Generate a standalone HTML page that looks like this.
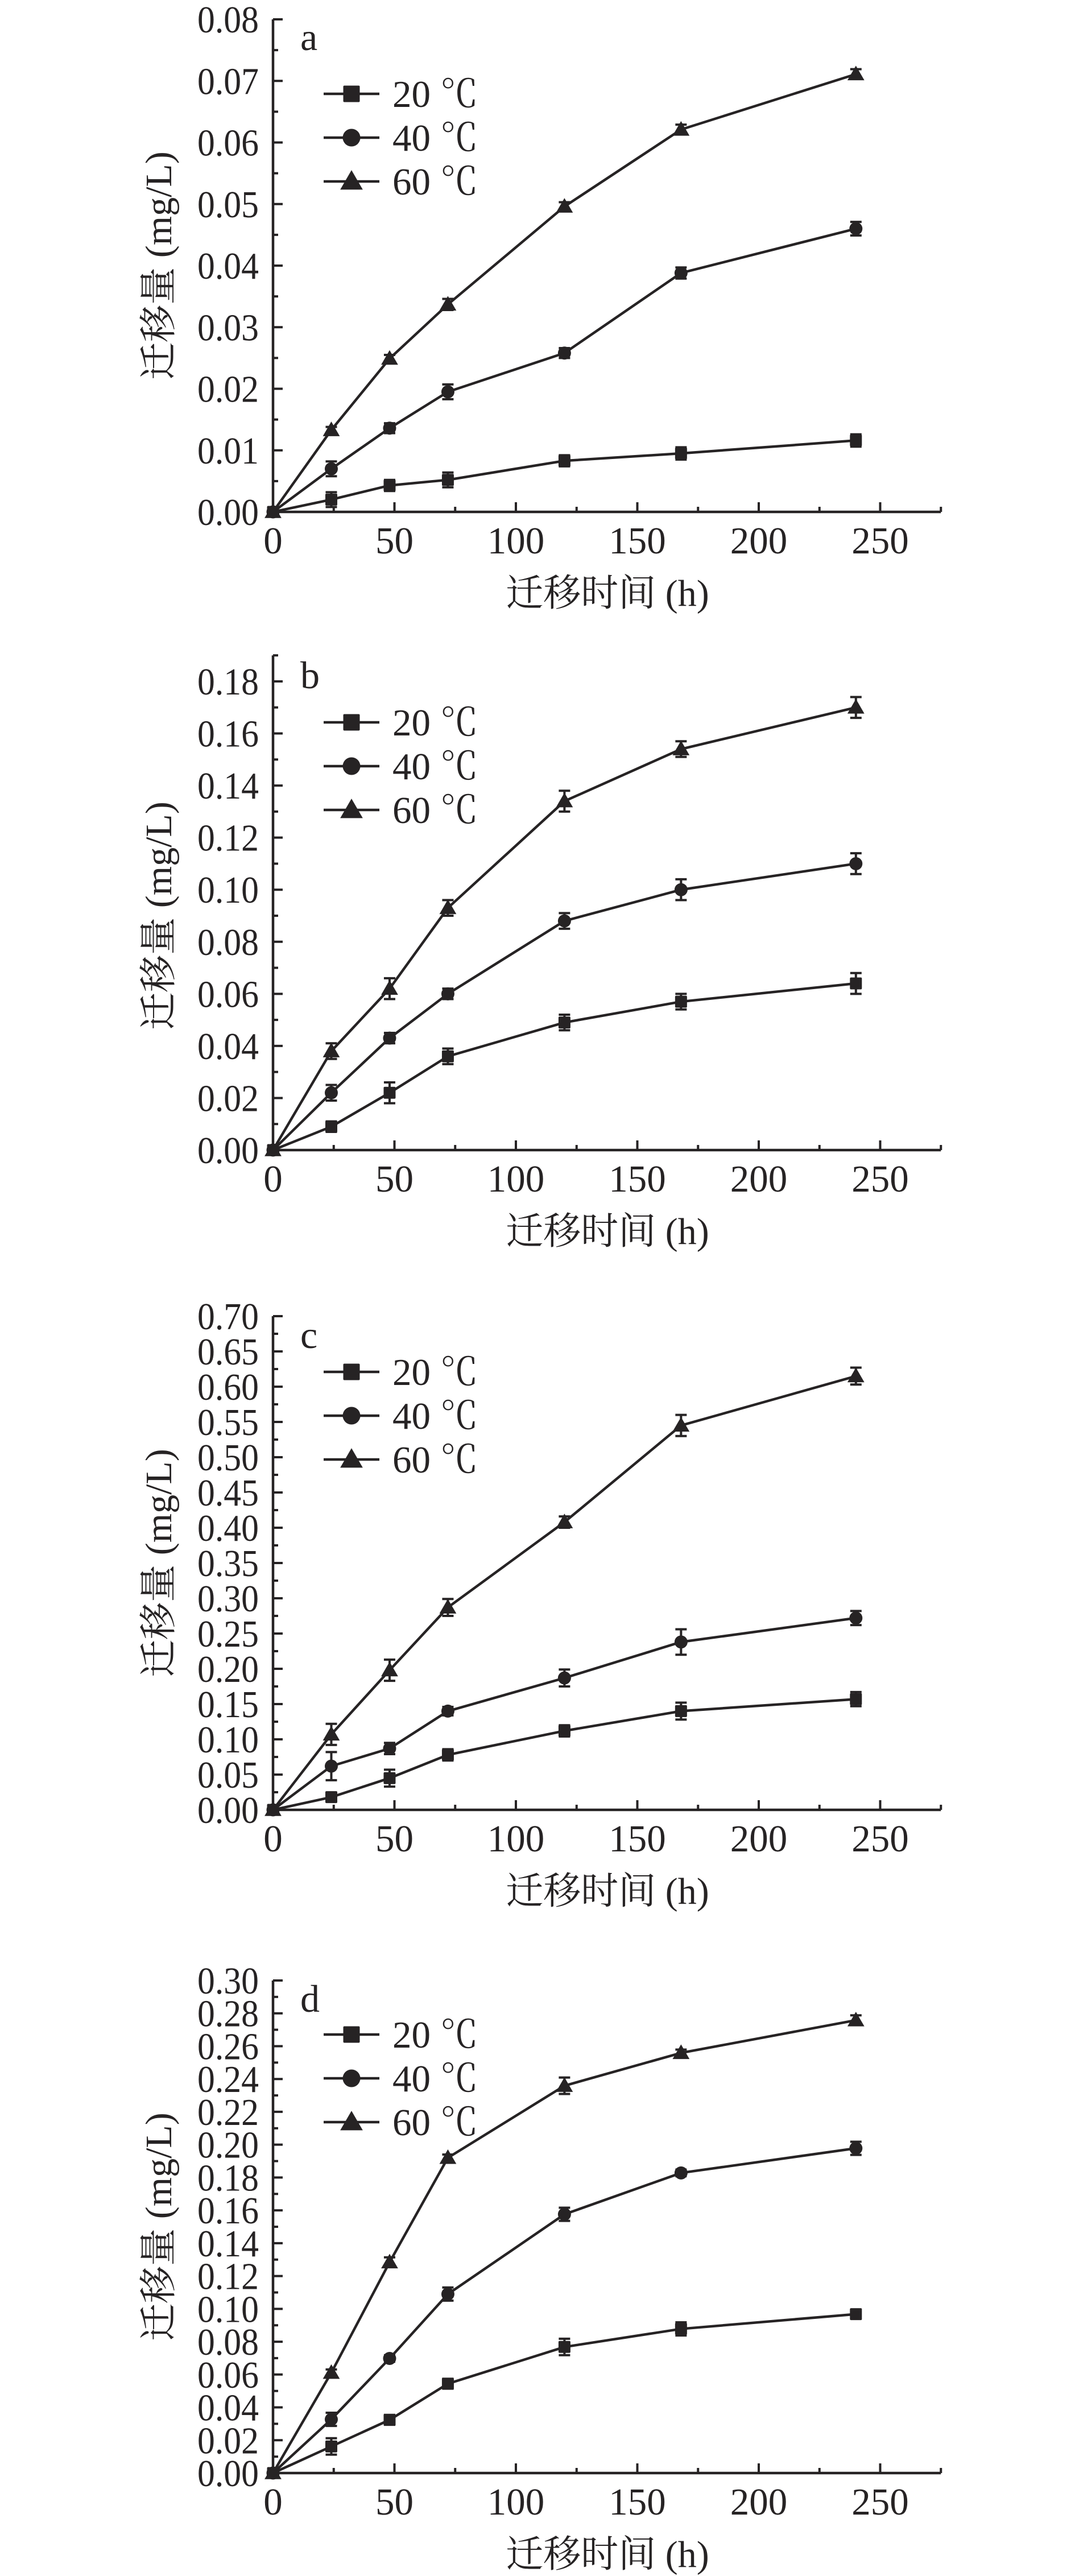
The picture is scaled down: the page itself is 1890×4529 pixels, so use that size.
<!DOCTYPE html>
<html><head><meta charset="utf-8">
<style>
html,body{margin:0;padding:0;background:#fff;}
svg{display:block;}
text{font-family:"Liberation Serif","Noto Serif CJK SC",serif;fill:#262324;}
</style></head>
<body>
<svg id="fig" width="1890" height="4529" viewBox="0 0 1890 4529" xmlns="http://www.w3.org/2000/svg"></svg>
<script>
const times = [0, 24, 48, 72, 120, 168, 240];
const seriesNames = ["20 ℃", "40 ℃", "60 ℃"];
const xTicks = [0, 50, 100, 150, 200, 250];

const aVals20 = [0, 0.0020, 0.0043, 0.0052, 0.0083, 0.0095, 0.0116];
const aVals40 = [0, 0.0070, 0.0136, 0.0195, 0.0258, 0.0388, 0.0460];
const aVals60 = [0, 0.0133, 0.0249, 0.0337, 0.0496, 0.0621, 0.0711];
const aErr20 = [0, 0.0012, 0.0009, 0.0012, 0.0009, 0.0010, 0.0010];
const aErr40 = [0, 0.0012, 0.0008, 0.0012, 0.0008, 0.0009, 0.0011];
const aErr60 = [0, 0.0005, 0.0006, 0.0009, 0.0007, 0.0008, 0.0008];

const bVals20 = [0, 0.009, 0.022, 0.036, 0.049, 0.057, 0.064];
const bVals40 = [0, 0.022, 0.043, 0.060, 0.088, 0.100, 0.110];
const bVals60 = [0, 0.038, 0.062, 0.093, 0.134, 0.154, 0.170];
const bErr20 = [0, 0.002, 0.004, 0.003, 0.003, 0.003, 0.004];
const bErr40 = [0, 0.003, 0.002, 0.002, 0.003, 0.004, 0.004];
const bErr60 = [0, 0.003, 0.004, 0.003, 0.004, 0.003, 0.004];

const cVals20 = [0, 0.018, 0.045, 0.078, 0.112, 0.140, 0.157];
const cVals40 = [0, 0.062, 0.087, 0.140, 0.187, 0.238, 0.272];
const cVals60 = [0, 0.107, 0.198, 0.287, 0.408, 0.545, 0.615];
const cErr20 = [0, 0.005, 0.012, 0.008, 0.008, 0.012, 0.010];
const cErr40 = [0, 0.020, 0.008, 0.006, 0.012, 0.018, 0.010];
const cErr60 = [0, 0.015, 0.015, 0.012, 0.008, 0.015, 0.012];

const dVals20 = [0, 0.0162, 0.0324, 0.0544, 0.0768, 0.0878, 0.0968];
const dVals40 = [0, 0.0327, 0.0698, 0.1090, 0.1576, 0.1828, 0.1978];
const dVals60 = [0, 0.0611, 0.1284, 0.1920, 0.2359, 0.2559, 0.2758];
const dErr20 = [0, 0.005, 0.003, 0.003, 0.005, 0.004, 0.002];
const dErr40 = [0, 0.004, 0.002, 0.004, 0.004, 0.002, 0.004];
const dErr60 = [0, 0.002, 0.003, 0.002, 0.005, 0.002, 0.003];

const aYTicks = [0,0.01,0.02,0.03,0.04,0.05,0.06,0.07,0.08];
const bYTicks = [0,0.02,0.04,0.06,0.08,0.10,0.12,0.14,0.16,0.18];
const cYTicks = [0,0.05,0.10,0.15,0.20,0.25,0.30,0.35,0.40,0.45,0.50,0.55,0.60,0.65,0.70];
const dYTicks = [0,0.02,0.04,0.06,0.08,0.10,0.12,0.14,0.16,0.18,0.20,0.22,0.24,0.26,0.28,0.30];

const NS = "http://www.w3.org/2000/svg";
const svg = document.getElementById("fig");
const INK = "#262324";
function mk(tag, attrs, parent){
  const e = document.createElementNS(NS, tag);
  for (const k in attrs) e.setAttribute(k, attrs[k]);
  (parent||svg).appendChild(e);
  return e;
}
const X0 = 480, XPER = 4.27, XMAX = 275;
function xs(t){ return X0 + t*XPER; }

function marker(g, kind, cx, cy, s){
  let m;
  if (kind === 0) m = mk("rect", {x:cx-s/2, y:cy-s/2, width:s, height:s, rx:2, fill:INK}, g);
  else if (kind === 1) m = mk("circle", {cx:cx, cy:cy, r:s/2+1, fill:INK}, g);
  else m = mk("polygon", {points:`${cx},${cy-s*0.62} ${cx-s*0.62},${cy+s*0.45} ${cx+s*0.62},${cy+s*0.45}`, fill:INK}, g);
  return m;
}

function panel(cfg){
  const g = mk("g", {});
  
  
  const Y0 = cfg.y0, ppu = (cfg.y0 - cfg.yTopPx) / cfg.yTicks[cfg.yTicks.length-1];
  const ys = v => Y0 - v*ppu;
  const top = ys(cfg.axisTop);
  const ax = mk("path", {d:`M${X0},${top} V${Y0} H${xs(XMAX)}`, stroke:INK, "stroke-width":4.5, fill:"none"}, g);
  
  
  const step = cfg.yTicks[1];
  for (let v = 0; v <= cfg.axisTop + 1e-9; v += step/2){
    const major = Math.abs(v/step - Math.round(v/step)) < 1e-6;
    mk("line", {x1:X0, x2:X0+(major?17:9), y1:ys(v), y2:ys(v), stroke:INK, "stroke-width":4}, g);
  }
  cfg.yTicks.forEach(v=>{
    const t = mk("text", {x:455, y:ys(v)+23, "text-anchor":"end", "font-size":67, textLength:108, lengthAdjust:"spacingAndGlyphs"}, g);
    t.textContent = v.toFixed(2);
    
    
  });
  for (let t = 25; t <= XMAX; t += 25){
    const major = t % 50 === 0;
    mk("line", {x1:xs(t), x2:xs(t), y1:Y0, y2:Y0-(major?17:9), stroke:INK, "stroke-width":4}, g);
  }
  xTicks.forEach(v=>{
    const t = mk("text", {x:xs(v), y:Y0+73, "text-anchor":"middle", "font-size":67}, g);
    t.textContent = String(v);
    
    
  });
  const xt = mk("text", {x:1068, y:Y0+165, "text-anchor":"middle", "font-size":66}, g);
  xt.textContent = "迁移时间 (h)";
  
  
  const cy = (Y0 + cfg.yTopPx)/2;
  const yt = mk("text", {x:0, y:0, "text-anchor":"middle", "font-size":66, transform:`translate(301,${cy}) rotate(-90)`}, g);
  yt.textContent = "迁移量 (mg/L)";
  
  
  const pl = mk("text", {x:528, y:cfg.labelY, "font-size":68}, g);
  pl.textContent = cfg.id;
  
  
  cfg.vals.forEach((vals, si)=>{
    const sg = mk("g", {}, g);
    
    
    const pts = times.map((t,i)=>`${xs(t)},${ys(vals[i])}`).join(" ");
    const ln = mk("polyline", {points:pts, fill:"none", stroke:INK, "stroke-width":4.5}, sg);
    
    
    times.forEach((t,i)=>{
      const e = cfg.errs[si][i];
      if (e > 0){
        const x = xs(t), y1 = ys(vals[i]+e), y2 = ys(vals[i]-e);
        const eb = mk("path", {d:`M${x},${y1} V${y2} M${x-10},${y1} H${x+10} M${x-10},${y2} H${x+10}`, stroke:INK, "stroke-width":4, fill:"none"}, sg);
        
        
      }
      const m = marker(sg, si, xs(t), ys(vals[i]), si===2?24:21);
      
      
    });
  });
  const lg = mk("g", {}, g);
  
  
  seriesNames.forEach((nm, i)=>{
    const ry = cfg.legendY + i*77;
    const eg = mk("g", {}, lg);
    
    
    mk("line", {x1:569, x2:667, y1:ry, y2:ry, stroke:INK, "stroke-width":4.5}, eg);
    marker(eg, i, 618, ry, i===2?32:29);
    const t = mk("text", {x:690, y:ry+23, "font-size":67}, eg);
    t.textContent = nm;
  });
}

panel({id:"a", y0:900, yTopPx:34, axisTop:0.08, yTicks:aYTicks, labelY:88, legendY:165,
  vals:[aVals20,aVals40,aVals60], errs:[aErr20,aErr40,aErr60]});
panel({id:"b", y0:2022, yTopPx:1198, axisTop:0.19, yTicks:bYTicks, labelY:1210, legendY:1270,
  vals:[bVals20,bVals40,bVals60], errs:[bErr20,bErr40,bErr60]});
panel({id:"c", y0:3182, yTopPx:2314, axisTop:0.70, yTicks:cYTicks, labelY:2370, legendY:2412,
  vals:[cVals20,cVals40,cVals60], errs:[cErr20,cErr40,cErr60]});
panel({id:"d", y0:4348, yTopPx:3482, axisTop:0.30, yTicks:dYTicks, labelY:3537, legendY:3577,
  vals:[dVals20,dVals40,dVals60], errs:[dErr20,dErr40,dErr60]});
</script>
</body></html>
